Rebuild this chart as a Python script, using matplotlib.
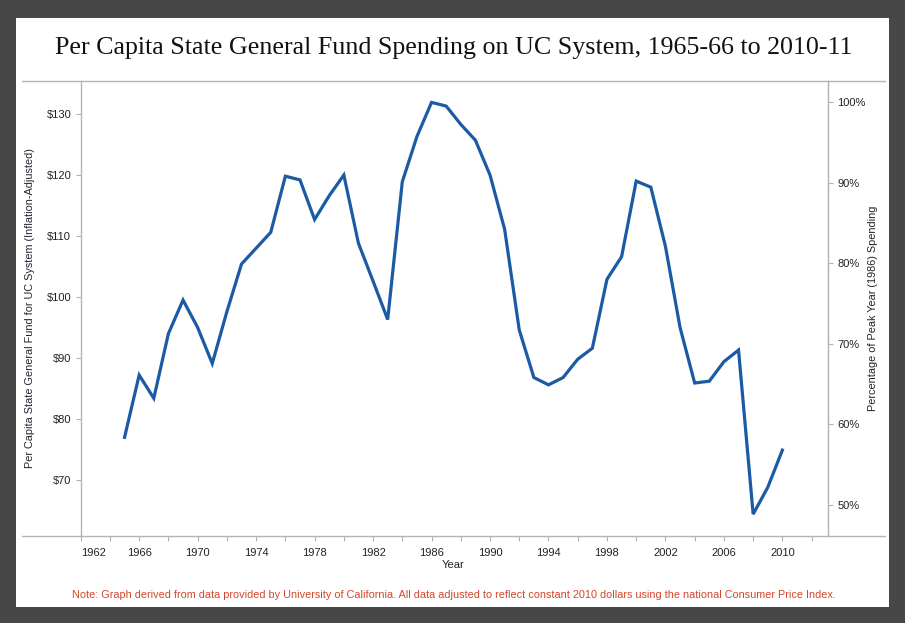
import matplotlib
matplotlib.use("Agg")
import matplotlib.pyplot as plt
from matplotlib.lines import Line2D
from matplotlib.patches import Rectangle
from matplotlib.ticker import FixedLocator, FuncFormatter

years = list(range(1965, 2011))
spending = [77.0, 87.2, 83.4, 94.0, 99.5, 95.0, 89.1, 97.6, 105.4, 108.0,
            110.6, 119.8, 119.2, 112.7, 116.6, 120.0, 108.8, 102.6, 96.3, 118.9,
            126.3, 131.9, 131.3, 128.3, 125.7, 120.0, 111.1, 94.6, 86.8, 85.6,
            86.8, 89.8, 91.6, 102.9, 106.6, 119.0, 118.0, 108.3, 95.0, 85.9,
            86.2, 89.4, 91.3, 64.4, 68.8, 74.9]
peak_year = 1986
dollar_ticks = [70, 80, 90, 100, 110, 120, 130]
pct_ticks = [50, 60, 70, 80, 90, 100]
year_labels = list(range(1962, 2011, 4))
year_minor = list(range(1964, 2013, 4))

title = "Per Capita State General Fund Spending on UC System, 1965-66 to 2010-11"
left_label = "Per Capita State General Fund for UC System (Inflation-Adjusted)"
right_label = "Percentage of Peak Year (1986) Spending"
x_label = "Year"
note = ("Note: Graph derived from data provided by University of California. "
        "All data adjusted to reflect constant 2010 dollars using the national Consumer Price Index.")

W, H = 905, 623
fig = plt.figure(figsize=(W / 100, H / 100), dpi=100, facecolor="#474747")

def fx(px):
    return px / W

def fy(py):
    return 1 - py / H

# white panel
fig.patches.append(Rectangle((fx(16), fy(606.7)), fx(889) - fx(16), fy(17.7) - fy(606.7),
                             transform=fig.transFigure, facecolor="white", edgecolor="none", zorder=-10))

L, R, T, B = 80.7, 827.7, 80.5, 536
ax = fig.add_axes([fx(L), fy(B), fx(R) - fx(L), fy(T) - fy(B)])
ax.set_zorder(1)
ax.set_facecolor("white")

peak = spending[years.index(peak_year)]
ax.plot(years, spending, color="#1b5aa5", lw=2.3, solid_joinstyle="miter", zorder=3)

ax.set_xlim(1962, 2013.1)
ax.set_ylim(60.82, 135.49)

grid_c = "#b4b4b4"
for s in ["top", "bottom"]:
    ax.spines[s].set_visible(False)
for s in ["left", "right"]:
    ax.spines[s].set_color(grid_c)
    ax.spines[s].set_linewidth(1.0)

# horizontal frame lines extending beyond axes
for py in (T, B):
    fig.lines.append(Line2D([fx(22), fx(885)], [fy(py), fy(py)], transform=fig.transFigure,
                            color=grid_c, lw=1.0, zorder=5))

ax.yaxis.set_major_locator(FixedLocator(dollar_ticks))
ax.yaxis.set_major_formatter(FuncFormatter(lambda v, p: f"${v:.0f}"))
ax.tick_params(axis="y", which="major", length=3.4, width=0.8, color=grid_c, pad=3.5,
               labelsize=8, labelcolor="#222222")

ax.xaxis.set_major_locator(FixedLocator(year_labels))
ax.xaxis.set_minor_locator(FixedLocator(year_minor))
ax.xaxis.set_major_formatter(FuncFormatter(lambda v, p: f"{v:.0f}"))
ax.tick_params(axis="x", which="both", length=3.8, width=0.8, color=grid_c, pad=5,
               labelsize=8, labelcolor="#222222")
for lab in ax.get_xticklabels() + ax.get_yticklabels():
    lab.set_fontfamily("Liberation Sans")
xl = ax.get_xticklabels()
xl[0].set_horizontalalignment("left")

sec = ax.secondary_yaxis("right", functions=(lambda d: d / peak * 100, lambda p: p * peak / 100))
sec.yaxis.set_major_locator(FixedLocator(pct_ticks))
sec.yaxis.set_major_formatter(FuncFormatter(lambda v, p: f"{v:.0f}%"))
sec.tick_params(axis="y", length=3.4, width=0.8, color=grid_c, pad=3.5, labelsize=8,
                labelcolor="#222222")
sec.spines["right"].set_color(grid_c)
for lab in sec.get_yticklabels():
    lab.set_fontfamily("Liberation Sans")

fig.text(fx(454), fy(48), title, ha="center", va="center", family="Liberation Serif",
         size=18.7, color="#111111")
fig.text(fx(30), fy(308), left_label, ha="center", va="center", rotation=90,
         family="Liberation Sans", size=7.8, color="#2a2030")
fig.text(fx(873), fy(308), right_label, ha="center", va="center", rotation=90,
         family="Liberation Sans", size=7.8, color="#222222")
fig.text(fx(453), fy(565), x_label, ha="center", va="center",
         family="Liberation Sans", size=8, color="#222222")
fig.text(fx(454), fy(595.5), note, ha="center", va="center",
         family="Liberation Sans", size=7.85, color="#d2462a")

fig.savefig("out.png", dpi=100, facecolor=fig.get_facecolor())
